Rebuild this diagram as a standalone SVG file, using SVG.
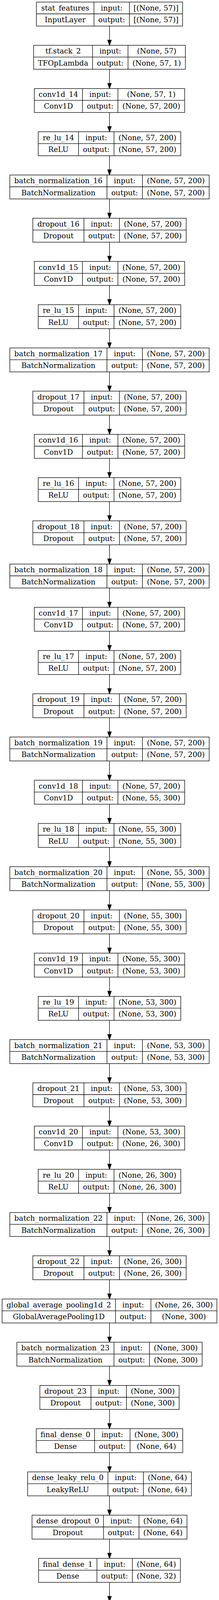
<svg xmlns="http://www.w3.org/2000/svg" width="561" height="4389" viewBox="0 0 561 4389">
<style>
.b{fill:#fff;stroke:#000;stroke-width:1.33}
.s{fill:none;stroke:#000;stroke-width:1.33}
.e{fill:none;stroke:#000;stroke-width:1.33;marker-end:url(#ah)}
text{font-family:"DejaVu Serif","Liberation Serif",serif;font-size:18.67px;text-anchor:middle;fill:#000}
</style>
<defs>
<marker id="ah" markerUnits="userSpaceOnUse" markerWidth="16" markerHeight="12" viewBox="0 -6 16 12" refX="0" refY="0" orient="auto" overflow="visible"><path d="M0,-4.67L13.33,0L0,4.67Z" fill="#000" stroke="#000" stroke-width="1.33"/></marker>
</defs>
<rect x="0" y="0" width="561" height="4389" fill="#fff"/>
<g id="connectors">
<path class="e" d="M280.5 66.66v36"/>
<path class="e" d="M280.5 177.33v36"/>
<path class="e" d="M280.5 288v36"/>
<path class="e" d="M280.5 398.67v36"/>
<path class="e" d="M280.5 509.34v36"/>
<path class="e" d="M280.5 620.01v36"/>
<path class="e" d="M280.5 730.68v36"/>
<path class="e" d="M280.5 841.35v36"/>
<path class="e" d="M280.5 952.02v36"/>
<path class="e" d="M280.5 1062.69v36"/>
<path class="e" d="M280.5 1173.36v36"/>
<path class="e" d="M280.5 1284.03v36"/>
<path class="e" d="M280.5 1394.7v36"/>
<path class="e" d="M280.5 1505.37v36"/>
<path class="e" d="M280.5 1616.04v36"/>
<path class="e" d="M280.5 1726.71v36"/>
<path class="e" d="M280.5 1837.38v36"/>
<path class="e" d="M280.5 1948.05v36"/>
<path class="e" d="M280.5 2058.72v36"/>
<path class="e" d="M280.5 2169.39v36"/>
<path class="e" d="M280.5 2280.06v36"/>
<path class="e" d="M280.5 2390.73v36"/>
<path class="e" d="M280.5 2501.4v36"/>
<path class="e" d="M280.5 2612.07v36"/>
<path class="e" d="M280.5 2722.74v36"/>
<path class="e" d="M280.5 2833.41v36"/>
<path class="e" d="M280.5 2944.08v36"/>
<path class="e" d="M280.5 3054.75v36"/>
<path class="e" d="M280.5 3165.42v36"/>
<path class="e" d="M280.5 3276.09v36"/>
<path class="e" d="M280.5 3386.76v36"/>
<path class="e" d="M280.5 3497.43v36"/>
<path class="e" d="M280.5 3608.1v36"/>
<path class="e" d="M280.5 3718.77v36"/>
<path class="e" d="M280.5 3829.44v36"/>
<path class="e" d="M280.5 3940.11v36"/>
<path class="e" d="M280.5 4050.78v36"/>
<path class="e" d="M280.5 4161.45v36"/>
<path class="e" d="M280.5 4272.12v36"/>
</g>

<g id="stat_features" transform="translate(0,5.33)"><rect class="b" x="93.3" y="0" width="374.4" height="61.33"/><path class="s" d="M93.3 30.2H467.7M240.7 0V61.33M331.5 0V61.33"/><text x="167" y="21.3">stat_features</text><text x="167" y="51.6">InputLayer</text><text x="286.1" y="21.3">input:</text><text x="286.1" y="51.6">output:</text><text x="399.6" y="21.3">[(None, 57)]</text><text x="399.6" y="51.6">[(None, 57)]</text></g>

<g id="tf_stack_2" transform="translate(0,116)"><rect class="b" x="86.1" y="0" width="388.8" height="61.33"/><path class="s" d="M86.1 30.2H474.9M237.1 0V61.33M327.9 0V61.33"/><text x="161.6" y="21.3">tf.stack_2</text><text x="161.6" y="51.6">TFOpLambda</text><text x="282.5" y="21.3">input:</text><text x="282.5" y="51.6">output:</text><text x="401.4" y="21.3">(None, 57)</text><text x="401.4" y="51.6">(None, 57, 1)</text></g>

<g id="conv1d_14" transform="translate(0,226.67)"><rect class="b" x="87.95" y="0" width="385.1" height="61.33"/><path class="s" d="M87.95 30.2H473.05M211.25 0V61.33M302.05 0V61.33"/><text x="149.6" y="21.3">conv1d_14</text><text x="149.6" y="51.6">Conv1D</text><text x="256.65" y="21.3">input:</text><text x="256.65" y="51.6">output:</text><text x="387.55" y="21.3">(None, 57, 1)</text><text x="387.55" y="51.6">(None, 57, 200)</text></g>

<g id="re_lu_14" transform="translate(0,337.34)"><rect class="b" x="97.95" y="0" width="365.1" height="61.33"/><path class="s" d="M97.95 30.2H463.05M201.25 0V61.33M292.05 0V61.33"/><text x="149.6" y="21.3">re_lu_14</text><text x="149.6" y="51.6">ReLU</text><text x="246.65" y="21.3">input:</text><text x="246.65" y="51.6">output:</text><text x="377.55" y="21.3">(None, 57, 200)</text><text x="377.55" y="51.6">(None, 57, 200)</text></g>

<g id="batch_normalization_16" transform="translate(0,448.01)"><rect class="b" x="25.2" y="0" width="510.6" height="61.33"/><path class="s" d="M25.2 30.2H535.8M274 0V61.33M364.8 0V61.33"/><text x="149.6" y="21.3">batch_normalization_16</text><text x="149.6" y="51.6">BatchNormalization</text><text x="319.4" y="21.3">input:</text><text x="319.4" y="51.6">output:</text><text x="450.3" y="21.3">(None, 57, 200)</text><text x="450.3" y="51.6">(None, 57, 200)</text></g>

<g id="dropout_16" transform="translate(0,558.68)"><rect class="b" x="84.15" y="0" width="392.7" height="61.33"/><path class="s" d="M84.15 30.2H476.85M215.05 0V61.33M305.85 0V61.33"/><text x="149.6" y="21.3">dropout_16</text><text x="149.6" y="51.6">Dropout</text><text x="260.45" y="21.3">input:</text><text x="260.45" y="51.6">output:</text><text x="391.35" y="21.3">(None, 57, 200)</text><text x="391.35" y="51.6">(None, 57, 200)</text></g>

<g id="conv1d_15" transform="translate(0,669.35)"><rect class="b" x="87.95" y="0" width="385.1" height="61.33"/><path class="s" d="M87.95 30.2H473.05M211.25 0V61.33M302.05 0V61.33"/><text x="149.6" y="21.3">conv1d_15</text><text x="149.6" y="51.6">Conv1D</text><text x="256.65" y="21.3">input:</text><text x="256.65" y="51.6">output:</text><text x="387.55" y="21.3">(None, 57, 200)</text><text x="387.55" y="51.6">(None, 57, 200)</text></g>

<g id="re_lu_15" transform="translate(0,780.02)"><rect class="b" x="97.95" y="0" width="365.1" height="61.33"/><path class="s" d="M97.95 30.2H463.05M201.25 0V61.33M292.05 0V61.33"/><text x="149.6" y="21.3">re_lu_15</text><text x="149.6" y="51.6">ReLU</text><text x="246.65" y="21.3">input:</text><text x="246.65" y="51.6">output:</text><text x="377.55" y="21.3">(None, 57, 200)</text><text x="377.55" y="51.6">(None, 57, 200)</text></g>

<g id="batch_normalization_17" transform="translate(0,890.69)"><rect class="b" x="25.2" y="0" width="510.6" height="61.33"/><path class="s" d="M25.2 30.2H535.8M274 0V61.33M364.8 0V61.33"/><text x="149.6" y="21.3">batch_normalization_17</text><text x="149.6" y="51.6">BatchNormalization</text><text x="319.4" y="21.3">input:</text><text x="319.4" y="51.6">output:</text><text x="450.3" y="21.3">(None, 57, 200)</text><text x="450.3" y="51.6">(None, 57, 200)</text></g>

<g id="dropout_17" transform="translate(0,1001.36)"><rect class="b" x="84.15" y="0" width="392.7" height="61.33"/><path class="s" d="M84.15 30.2H476.85M215.05 0V61.33M305.85 0V61.33"/><text x="149.6" y="21.3">dropout_17</text><text x="149.6" y="51.6">Dropout</text><text x="260.45" y="21.3">input:</text><text x="260.45" y="51.6">output:</text><text x="391.35" y="21.3">(None, 57, 200)</text><text x="391.35" y="51.6">(None, 57, 200)</text></g>

<g id="conv1d_16" transform="translate(0,1112.03)"><rect class="b" x="87.95" y="0" width="385.1" height="61.33"/><path class="s" d="M87.95 30.2H473.05M211.25 0V61.33M302.05 0V61.33"/><text x="149.6" y="21.3">conv1d_16</text><text x="149.6" y="51.6">Conv1D</text><text x="256.65" y="21.3">input:</text><text x="256.65" y="51.6">output:</text><text x="387.55" y="21.3">(None, 57, 200)</text><text x="387.55" y="51.6">(None, 57, 200)</text></g>

<g id="re_lu_16" transform="translate(0,1222.7)"><rect class="b" x="97.95" y="0" width="365.1" height="61.33"/><path class="s" d="M97.95 30.2H463.05M201.25 0V61.33M292.05 0V61.33"/><text x="149.6" y="21.3">re_lu_16</text><text x="149.6" y="51.6">ReLU</text><text x="246.65" y="21.3">input:</text><text x="246.65" y="51.6">output:</text><text x="377.55" y="21.3">(None, 57, 200)</text><text x="377.55" y="51.6">(None, 57, 200)</text></g>

<g id="dropout_18" transform="translate(0,1333.37)"><rect class="b" x="84.15" y="0" width="392.7" height="61.33"/><path class="s" d="M84.15 30.2H476.85M215.05 0V61.33M305.85 0V61.33"/><text x="149.6" y="21.3">dropout_18</text><text x="149.6" y="51.6">Dropout</text><text x="260.45" y="21.3">input:</text><text x="260.45" y="51.6">output:</text><text x="391.35" y="21.3">(None, 57, 200)</text><text x="391.35" y="51.6">(None, 57, 200)</text></g>

<g id="batch_normalization_18" transform="translate(0,1444.04)"><rect class="b" x="25.2" y="0" width="510.6" height="61.33"/><path class="s" d="M25.2 30.2H535.8M274 0V61.33M364.8 0V61.33"/><text x="149.6" y="21.3">batch_normalization_18</text><text x="149.6" y="51.6">BatchNormalization</text><text x="319.4" y="21.3">input:</text><text x="319.4" y="51.6">output:</text><text x="450.3" y="21.3">(None, 57, 200)</text><text x="450.3" y="51.6">(None, 57, 200)</text></g>

<g id="conv1d_17" transform="translate(0,1554.71)"><rect class="b" x="87.95" y="0" width="385.1" height="61.33"/><path class="s" d="M87.95 30.2H473.05M211.25 0V61.33M302.05 0V61.33"/><text x="149.6" y="21.3">conv1d_17</text><text x="149.6" y="51.6">Conv1D</text><text x="256.65" y="21.3">input:</text><text x="256.65" y="51.6">output:</text><text x="387.55" y="21.3">(None, 57, 200)</text><text x="387.55" y="51.6">(None, 57, 200)</text></g>

<g id="re_lu_17" transform="translate(0,1665.38)"><rect class="b" x="97.95" y="0" width="365.1" height="61.33"/><path class="s" d="M97.95 30.2H463.05M201.25 0V61.33M292.05 0V61.33"/><text x="149.6" y="21.3">re_lu_17</text><text x="149.6" y="51.6">ReLU</text><text x="246.65" y="21.3">input:</text><text x="246.65" y="51.6">output:</text><text x="377.55" y="21.3">(None, 57, 200)</text><text x="377.55" y="51.6">(None, 57, 200)</text></g>

<g id="dropout_19" transform="translate(0,1776.05)"><rect class="b" x="84.15" y="0" width="392.7" height="61.33"/><path class="s" d="M84.15 30.2H476.85M215.05 0V61.33M305.85 0V61.33"/><text x="149.6" y="21.3">dropout_19</text><text x="149.6" y="51.6">Dropout</text><text x="260.45" y="21.3">input:</text><text x="260.45" y="51.6">output:</text><text x="391.35" y="21.3">(None, 57, 200)</text><text x="391.35" y="51.6">(None, 57, 200)</text></g>

<g id="batch_normalization_19" transform="translate(0,1886.72)"><rect class="b" x="25.2" y="0" width="510.6" height="61.33"/><path class="s" d="M25.2 30.2H535.8M274 0V61.33M364.8 0V61.33"/><text x="149.6" y="21.3">batch_normalization_19</text><text x="149.6" y="51.6">BatchNormalization</text><text x="319.4" y="21.3">input:</text><text x="319.4" y="51.6">output:</text><text x="450.3" y="21.3">(None, 57, 200)</text><text x="450.3" y="51.6">(None, 57, 200)</text></g>

<g id="conv1d_18" transform="translate(0,1997.39)"><rect class="b" x="87.95" y="0" width="385.1" height="61.33"/><path class="s" d="M87.95 30.2H473.05M211.25 0V61.33M302.05 0V61.33"/><text x="149.6" y="21.3">conv1d_18</text><text x="149.6" y="51.6">Conv1D</text><text x="256.65" y="21.3">input:</text><text x="256.65" y="51.6">output:</text><text x="387.55" y="21.3">(None, 57, 200)</text><text x="387.55" y="51.6">(None, 55, 300)</text></g>

<g id="re_lu_18" transform="translate(0,2108.06)"><rect class="b" x="97.95" y="0" width="365.1" height="61.33"/><path class="s" d="M97.95 30.2H463.05M201.25 0V61.33M292.05 0V61.33"/><text x="149.6" y="21.3">re_lu_18</text><text x="149.6" y="51.6">ReLU</text><text x="246.65" y="21.3">input:</text><text x="246.65" y="51.6">output:</text><text x="377.55" y="21.3">(None, 55, 300)</text><text x="377.55" y="51.6">(None, 55, 300)</text></g>

<g id="batch_normalization_20" transform="translate(0,2218.73)"><rect class="b" x="25.2" y="0" width="510.6" height="61.33"/><path class="s" d="M25.2 30.2H535.8M274 0V61.33M364.8 0V61.33"/><text x="149.6" y="21.3">batch_normalization_20</text><text x="149.6" y="51.6">BatchNormalization</text><text x="319.4" y="21.3">input:</text><text x="319.4" y="51.6">output:</text><text x="450.3" y="21.3">(None, 55, 300)</text><text x="450.3" y="51.6">(None, 55, 300)</text></g>

<g id="dropout_20" transform="translate(0,2329.4)"><rect class="b" x="84.15" y="0" width="392.7" height="61.33"/><path class="s" d="M84.15 30.2H476.85M215.05 0V61.33M305.85 0V61.33"/><text x="149.6" y="21.3">dropout_20</text><text x="149.6" y="51.6">Dropout</text><text x="260.45" y="21.3">input:</text><text x="260.45" y="51.6">output:</text><text x="391.35" y="21.3">(None, 55, 300)</text><text x="391.35" y="51.6">(None, 55, 300)</text></g>

<g id="conv1d_19" transform="translate(0,2440.07)"><rect class="b" x="87.95" y="0" width="385.1" height="61.33"/><path class="s" d="M87.95 30.2H473.05M211.25 0V61.33M302.05 0V61.33"/><text x="149.6" y="21.3">conv1d_19</text><text x="149.6" y="51.6">Conv1D</text><text x="256.65" y="21.3">input:</text><text x="256.65" y="51.6">output:</text><text x="387.55" y="21.3">(None, 55, 300)</text><text x="387.55" y="51.6">(None, 53, 300)</text></g>

<g id="re_lu_19" transform="translate(0,2550.74)"><rect class="b" x="97.95" y="0" width="365.1" height="61.33"/><path class="s" d="M97.95 30.2H463.05M201.25 0V61.33M292.05 0V61.33"/><text x="149.6" y="21.3">re_lu_19</text><text x="149.6" y="51.6">ReLU</text><text x="246.65" y="21.3">input:</text><text x="246.65" y="51.6">output:</text><text x="377.55" y="21.3">(None, 53, 300)</text><text x="377.55" y="51.6">(None, 53, 300)</text></g>

<g id="batch_normalization_21" transform="translate(0,2661.41)"><rect class="b" x="25.2" y="0" width="510.6" height="61.33"/><path class="s" d="M25.2 30.2H535.8M274 0V61.33M364.8 0V61.33"/><text x="149.6" y="21.3">batch_normalization_21</text><text x="149.6" y="51.6">BatchNormalization</text><text x="319.4" y="21.3">input:</text><text x="319.4" y="51.6">output:</text><text x="450.3" y="21.3">(None, 53, 300)</text><text x="450.3" y="51.6">(None, 53, 300)</text></g>

<g id="dropout_21" transform="translate(0,2772.08)"><rect class="b" x="84.15" y="0" width="392.7" height="61.33"/><path class="s" d="M84.15 30.2H476.85M215.05 0V61.33M305.85 0V61.33"/><text x="149.6" y="21.3">dropout_21</text><text x="149.6" y="51.6">Dropout</text><text x="260.45" y="21.3">input:</text><text x="260.45" y="51.6">output:</text><text x="391.35" y="21.3">(None, 53, 300)</text><text x="391.35" y="51.6">(None, 53, 300)</text></g>

<g id="conv1d_20" transform="translate(0,2882.75)"><rect class="b" x="87.95" y="0" width="385.1" height="61.33"/><path class="s" d="M87.95 30.2H473.05M211.25 0V61.33M302.05 0V61.33"/><text x="149.6" y="21.3">conv1d_20</text><text x="149.6" y="51.6">Conv1D</text><text x="256.65" y="21.3">input:</text><text x="256.65" y="51.6">output:</text><text x="387.55" y="21.3">(None, 53, 300)</text><text x="387.55" y="51.6">(None, 26, 300)</text></g>

<g id="re_lu_20" transform="translate(0,2993.42)"><rect class="b" x="97.95" y="0" width="365.1" height="61.33"/><path class="s" d="M97.95 30.2H463.05M201.25 0V61.33M292.05 0V61.33"/><text x="149.6" y="21.3">re_lu_20</text><text x="149.6" y="51.6">ReLU</text><text x="246.65" y="21.3">input:</text><text x="246.65" y="51.6">output:</text><text x="377.55" y="21.3">(None, 26, 300)</text><text x="377.55" y="51.6">(None, 26, 300)</text></g>

<g id="batch_normalization_22" transform="translate(0,3104.09)"><rect class="b" x="25.2" y="0" width="510.6" height="61.33"/><path class="s" d="M25.2 30.2H535.8M274 0V61.33M364.8 0V61.33"/><text x="149.6" y="21.3">batch_normalization_22</text><text x="149.6" y="51.6">BatchNormalization</text><text x="319.4" y="21.3">input:</text><text x="319.4" y="51.6">output:</text><text x="450.3" y="21.3">(None, 26, 300)</text><text x="450.3" y="51.6">(None, 26, 300)</text></g>

<g id="dropout_22" transform="translate(0,3214.76)"><rect class="b" x="84.15" y="0" width="392.7" height="61.33"/><path class="s" d="M84.15 30.2H476.85M215.05 0V61.33M305.85 0V61.33"/><text x="149.6" y="21.3">dropout_22</text><text x="149.6" y="51.6">Dropout</text><text x="260.45" y="21.3">input:</text><text x="260.45" y="51.6">output:</text><text x="391.35" y="21.3">(None, 26, 300)</text><text x="391.35" y="51.6">(None, 26, 300)</text></g>

<g id="global_average_pooling1d_2" transform="translate(0,3325.43)"><rect class="b" x="5.4" y="0" width="550.2" height="61.33"/><path class="s" d="M5.4 30.2H555.6M295.8 0V61.33M386.6 0V61.33"/><text x="150.6" y="21.3">global_average_pooling1d_2</text><text x="150.6" y="51.6">GlobalAveragePooling1D</text><text x="341.2" y="21.3">input:</text><text x="341.2" y="51.6">output:</text><text x="471.1" y="21.3">(None, 26, 300)</text><text x="471.1" y="51.6">(None, 300)</text></g>

<g id="batch_normalization_23" transform="translate(0,3436.1)"><rect class="b" x="43.2" y="0" width="474.6" height="61.33"/><path class="s" d="M43.2 30.2H517.8M292 0V61.33M382.8 0V61.33"/><text x="167.6" y="21.3">batch_normalization_23</text><text x="167.6" y="51.6">BatchNormalization</text><text x="337.4" y="21.3">input:</text><text x="337.4" y="51.6">output:</text><text x="450.3" y="21.3">(None, 300)</text><text x="450.3" y="51.6">(None, 300)</text></g>

<g id="dropout_23" transform="translate(0,3546.77)"><rect class="b" x="102.15" y="0" width="356.7" height="61.33"/><path class="s" d="M102.15 30.2H458.85M233.05 0V61.33M323.85 0V61.33"/><text x="167.6" y="21.3">dropout_23</text><text x="167.6" y="51.6">Dropout</text><text x="278.45" y="21.3">input:</text><text x="278.45" y="51.6">output:</text><text x="391.35" y="21.3">(None, 300)</text><text x="391.35" y="51.6">(None, 300)</text></g>

<g id="final_dense_0" transform="translate(0,3657.44)"><rect class="b" x="92.85" y="0" width="375.3" height="61.33"/><path class="s" d="M92.85 30.2H468.15M242.35 0V61.33M333.15 0V61.33"/><text x="167.6" y="21.3">final_dense_0</text><text x="167.6" y="51.6">Dense</text><text x="287.75" y="21.3">input:</text><text x="287.75" y="51.6">output:</text><text x="400.65" y="21.3">(None, 300)</text><text x="400.65" y="51.6">(None, 64)</text></g>

<g id="dense_leaky_relu_0" transform="translate(0,3768.11)"><rect class="b" x="70.7" y="0" width="419.6" height="61.33"/><path class="s" d="M70.7 30.2H490.3M276.5 0V61.33M367.3 0V61.33"/><text x="173.6" y="21.3">dense_leaky_relu_0</text><text x="173.6" y="51.6">LeakyReLU</text><text x="321.9" y="21.3">input:</text><text x="321.9" y="51.6">output:</text><text x="428.8" y="21.3">(None, 64)</text><text x="428.8" y="51.6">(None, 64)</text></g>

<g id="dense_dropout_0" transform="translate(0,3878.78)"><rect class="b" x="82" y="0" width="397" height="61.33"/><path class="s" d="M82 30.2H479M265.2 0V61.33M356 0V61.33"/><text x="173.6" y="21.3">dense_dropout_0</text><text x="173.6" y="51.6">Dropout</text><text x="310.6" y="21.3">input:</text><text x="310.6" y="51.6">output:</text><text x="417.5" y="21.3">(None, 64)</text><text x="417.5" y="51.6">(None, 64)</text></g>

<g id="final_dense_1" transform="translate(0,3989.45)"><rect class="b" x="98.85" y="0" width="363.3" height="61.33"/><path class="s" d="M98.85 30.2H462.15M248.35 0V61.33M339.15 0V61.33"/><text x="173.6" y="21.3">final_dense_1</text><text x="173.6" y="51.6">Dense</text><text x="293.75" y="21.3">input:</text><text x="293.75" y="51.6">output:</text><text x="400.65" y="21.3">(None, 64)</text><text x="400.65" y="51.6">(None, 32)</text></g>

<g id="dense_leaky_relu_1" transform="translate(0,4100.12)"><rect class="b" x="70.7" y="0" width="419.6" height="61.33"/><path class="s" d="M70.7 30.2H490.3M276.5 0V61.33M367.3 0V61.33"/><text x="173.6" y="21.3">dense_leaky_relu_1</text><text x="173.6" y="51.6">LeakyReLU</text><text x="321.9" y="21.3">input:</text><text x="321.9" y="51.6">output:</text><text x="428.8" y="21.3">(None, 32)</text><text x="428.8" y="51.6">(None, 32)</text></g>

<g id="dense_dropout_1" transform="translate(0,4210.79)"><rect class="b" x="82" y="0" width="397" height="61.33"/><path class="s" d="M82 30.2H479M265.2 0V61.33M356 0V61.33"/><text x="173.6" y="21.3">dense_dropout_1</text><text x="173.6" y="51.6">Dropout</text><text x="310.6" y="21.3">input:</text><text x="310.6" y="51.6">output:</text><text x="417.5" y="21.3">(None, 32)</text><text x="417.5" y="51.6">(None, 32)</text></g>

<g id="softmax" transform="translate(0,4321.46)"><rect class="b" x="124.1" y="0" width="312.8" height="61.33"/><path class="s" d="M124.1 30.2H436.9M223.1 0V61.33M313.9 0V61.33"/><text x="173.6" y="21.3">softmax</text><text x="173.6" y="51.6">Dense</text><text x="268.5" y="21.3">input:</text><text x="268.5" y="51.6">output:</text><text x="375.4" y="21.3">(None, 32)</text><text x="375.4" y="51.6">(None, 7)</text></g>
</svg>
